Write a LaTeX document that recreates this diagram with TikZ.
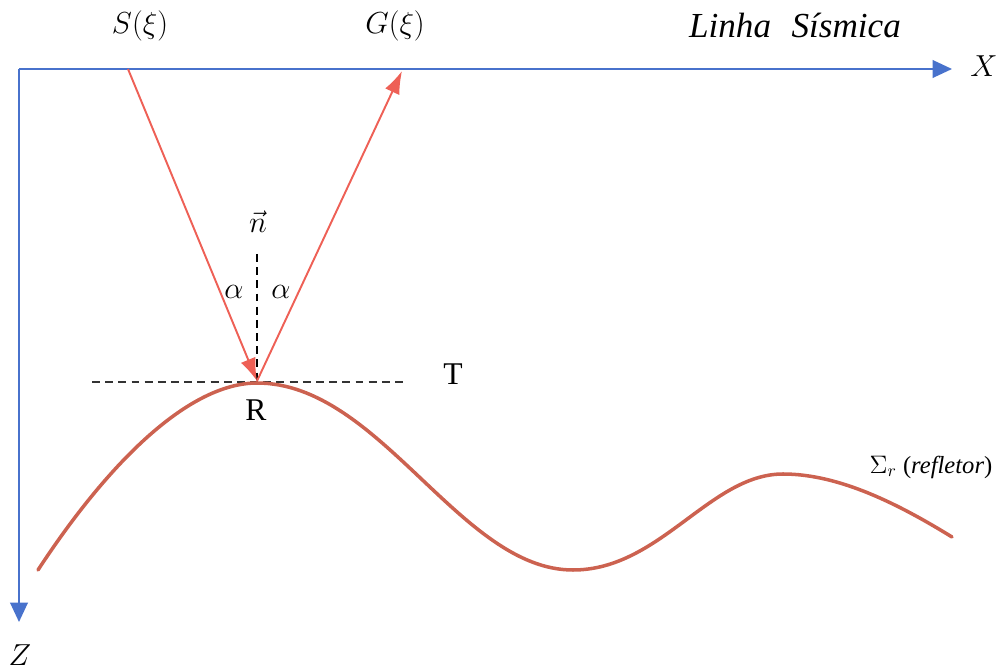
\documentclass[tikz,border=0pt]{standalone}
\usepackage{fontspec}
\setmainfont{Liberation Serif}
\usetikzlibrary{arrows.meta}
\definecolor{axisblue}{RGB}{72,114,204}
\definecolor{rayred}{RGB}{238,96,86}
\definecolor{reflbrown}{RGB}{204,98,80}

\begin{document}
\begin{tikzpicture}[x=0.02cm, y=-0.02cm]
    \useasboundingbox (0,0) rectangle (1000,671);

    % Draw points
    \coordinate (O) at (19,69);
    \coordinate (xend) at (952,69);
    \coordinate (zend) at (19,622);
    \coordinate (src) at (128,69);
    \coordinate (rcv) at (402,71);
    \coordinate (R) at (257,381);
    \coordinate (ntop) at (257,254);
    \coordinate (tleft) at (92,382);
    \coordinate (tright) at (405,382);

    % Draw axes
    \draw[axisblue, line width=1.1pt, -{Triangle[length=11pt, width=10pt]}] (O) -- (xend);
    \draw[axisblue, line width=1.1pt, -{Triangle[length=11pt, width=10pt]}] (O) -- (zend);

    % Draw tangent and normal
    \draw[black!80, line width=0.8pt, dash pattern=on 4.5pt off 3pt] (tleft) -- (tright);
    \draw[black, line width=0.8pt, dash pattern=on 4.5pt off 3pt] (ntop) -- (R);

    % Draw reflector
    \draw[reflbrown, line width=2pt, line cap=round]
        (38,570) .. controls (110,460) and (190,383) .. (257,383)
        .. controls (380,383) and (460,570) .. (573,570)
        .. controls (660,570) and (710,474) .. (783,474)
        .. controls (840,474) and (900,505) .. (952,537);

    % Draw rays
    \draw[rayred, line width=1.1pt, -{Latex[length=13pt, width=9pt]}] (src) -- (R);
    \draw[rayred, line width=1.1pt, -{Latex[length=13pt, width=9pt]}] (R) -- (rcv);

    % Labels
    \node[font=\fontsize{16}{19}\selectfont] (slabel) at (140,26) {$S(\xi)$};
    \node[font=\fontsize{16}{19}\selectfont] (glabel) at (395,26) {$G(\xi)$};
    \node[font=\fontsize{20}{24}\selectfont\itshape] (line) at (795,25) {Linha\,\, Sísmica};
    \node[font=\fontsize{18}{22}\selectfont] (xlabel) at (984,66) {$X$};
    \node[font=\fontsize{18}{22}\selectfont] (zlabel) at (20,655) {$Z$};
    \node[font=\fontsize{18}{22}\selectfont] (nlabel) at (258,222) {$\vec{n}$};
    \node[font=\fontsize{18}{22}\selectfont] (aleft) at (234,292) {$\alpha$};
    \node[font=\fontsize{18}{22}\selectfont] (aright) at (281,292) {$\alpha$};
    \node[font=\fontsize{18}{22}\selectfont] (tlabel) at (453,374) {T};
    \node[font=\fontsize{18}{22}\selectfont] (rlabel) at (256,410) {R};
    \node[font=\fontsize{14}{17}\selectfont] (sigma) at (931,467) {$\Sigma_r$ (\textit{refletor})};
\end{tikzpicture}
\end{document}
